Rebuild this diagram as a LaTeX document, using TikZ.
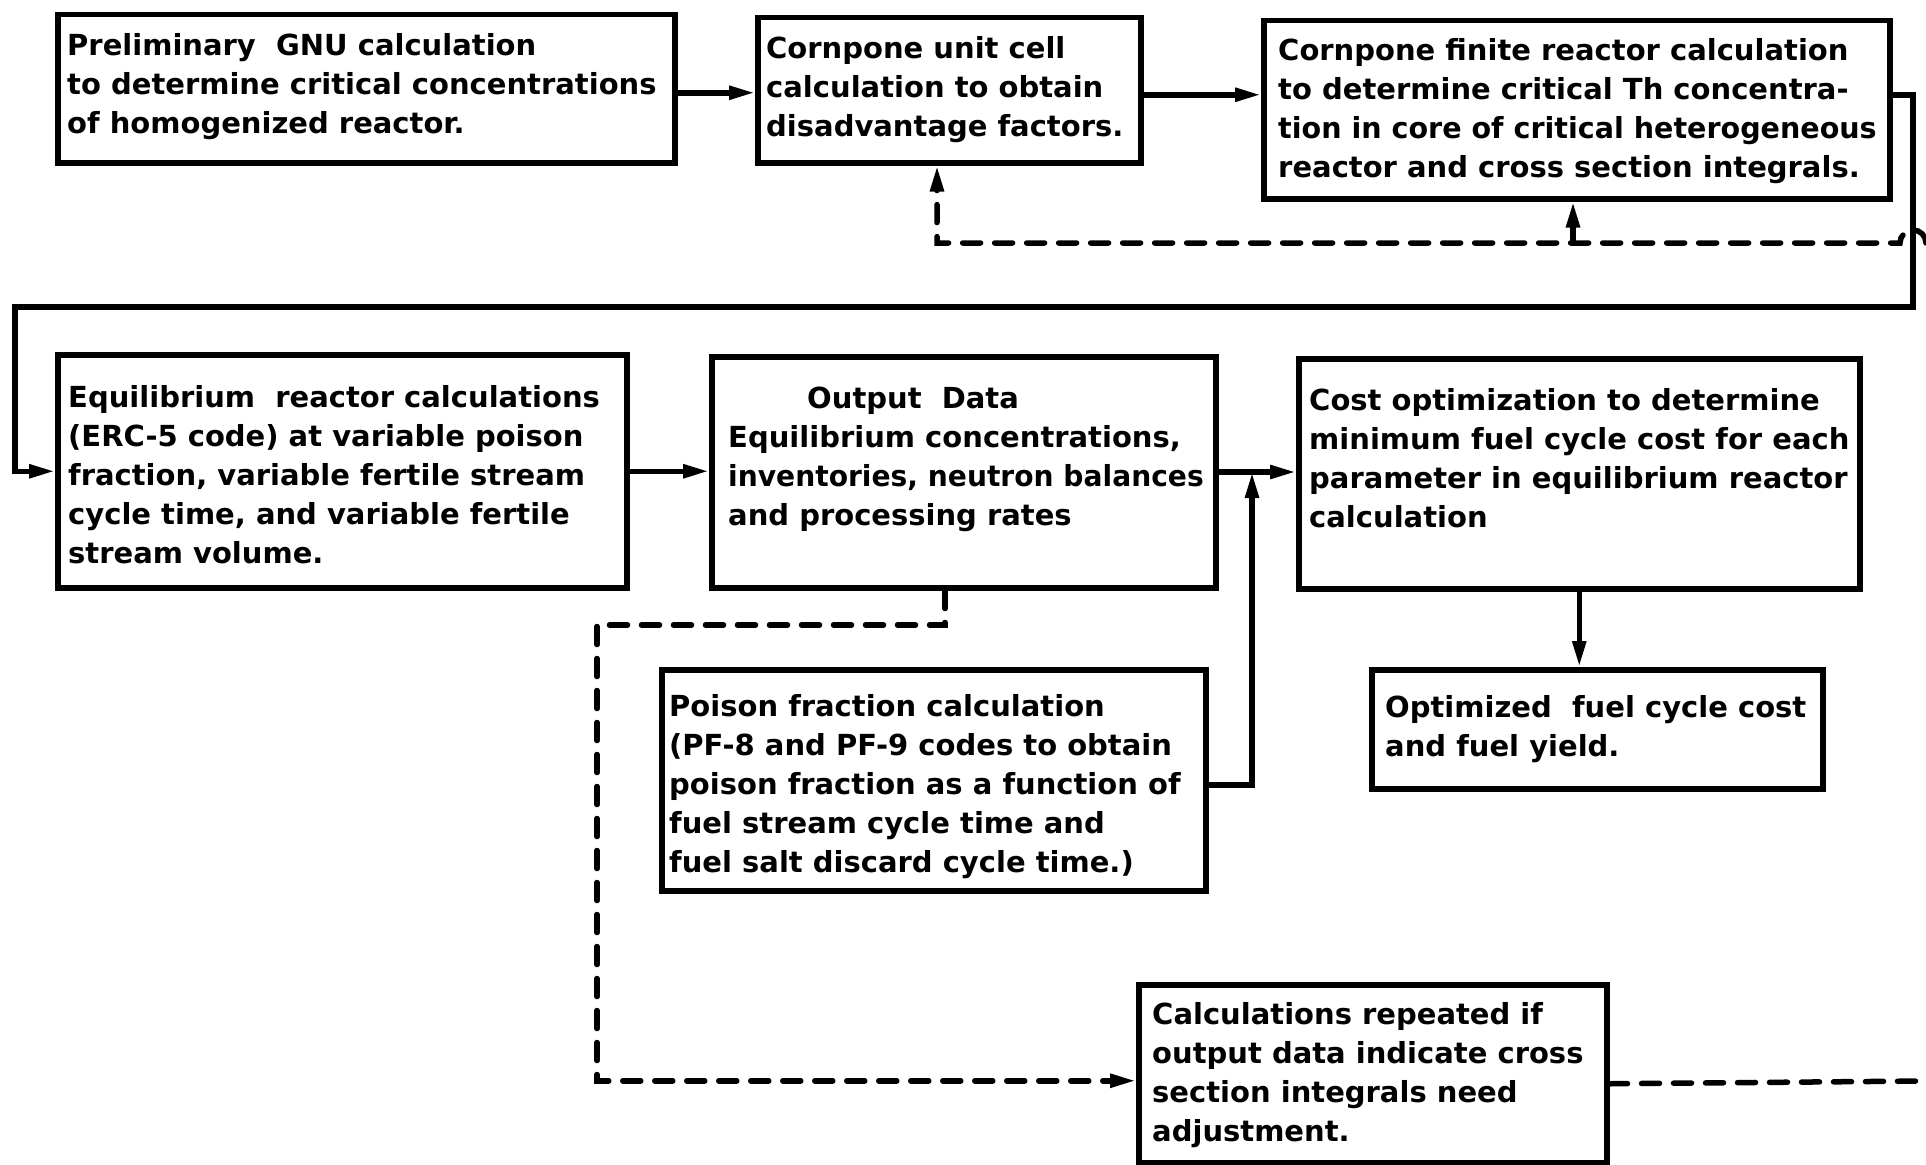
\documentclass[tikz,border=0pt]{standalone}
\usepackage{fontspec}
\usepackage{graphicx}
\setmainfont{DejaVu Sans}
\usetikzlibrary{arrows.meta}
\tikzset{
  boxn/.style={draw, line width=5.5pt, inner sep=0pt, anchor=north west},
  txt/.style={anchor=west, inner sep=0pt, align=left,
    font=\fontsize{29}{39}\selectfont\bfseries},
  conn/.style={line width=5.5pt},
  arr/.style={conn, -{Triangle[length=26pt,width=13pt]}},
  dashln/.style={conn, line cap=round, dash pattern=on 18pt off 14pt},
  darr/.style={dashln, -{Triangle[length=26pt,width=13pt]}}
}
\newcommand{\sr}{\strut}
\newcommand{\narrowline}[2]{\scalebox{#1}[1]{#2}}
\begin{document}
\begin{tikzpicture}[x=1pt,y=-1pt]
\useasboundingbox[fill=white] (0,0) rectangle (1926,1164);

% boxes
\node[boxn, minimum width=617pt, minimum height=148pt] (b1) at (55,12) {};
\node[boxn, minimum width=383pt, minimum height=145pt] (b2) at (755,15) {};
\node[boxn, minimum width=626pt, minimum height=178pt] (b3) at (1261,18) {};
\node[boxn, minimum width=569pt, minimum height=233pt] (b4) at (55,352) {};
\node[boxn, minimum width=504pt, minimum height=231pt] (b5) at (709,354) {};
\node[boxn, minimum width=561pt, minimum height=230pt] (b6) at (1296,356) {};
\node[boxn, minimum width=544pt, minimum height=221pt] (b7) at (659,667) {};
\node[boxn, minimum width=451pt, minimum height=119pt] (b8) at (1369,667) {};
\node[boxn, minimum width=468pt, minimum height=178pt] (b9) at (1136,982) {};

% texts
\node[txt] (t1) at (67,87) {\sr Preliminary\ \ GNU calculation\\ to determine critical concentrations\\ of homogenized reactor.\sr};
\node[txt] (t2) at (766,90) {\sr Cornpone unit cell\\ calculation to obtain\\ disadvantage factors.\sr};
\node[txt] (t3) at (1278,111) {\sr Cornpone finite reactor calculation\\ to determine critical Th concentra-\\ \narrowline{0.985}{tion in core of critical heterogeneous}\\ reactor and cross section integrals.\sr};
\node[txt] (t4) at (68,478) {\sr Equilibrium\ \ reactor calculations\\ (ERC-5 code) at variable poison\\ fraction, variable fertile stream\\ cycle time, and variable fertile\\ stream volume.\sr};
\node[txt] (t5) at (728,459) {\sr\hspace*{79pt}Output\ \ Data\\ Equilibrium concentrations,\\ \narrowline{0.97}{inventories, neutron balances}\\ and processing rates\sr};
\node[txt] (t6) at (1309,461) {\sr Cost optimization to determine\\ minimum fuel cycle cost for each\\ parameter in equilibrium reactor\\ calculation\sr};
\node[txt] (t7) at (669,787) {\sr Poison fraction calculation\\ (PF-8 and PF-9 codes to obtain\\ poison fraction as a function of\\ fuel stream cycle time and\\ fuel salt discard cycle time.)\sr};
\node[txt] (t8) at (1385,729) {\sr Optimized\ \ fuel cycle cost\\ and fuel yield.\sr};
\node[txt] (t9) at (1152,1075) {\sr Calculations repeated if\\ output data indicate cross\\ section integrals need\\ adjustment.\sr};

% coordinates for routing
\coordinate (r1) at (1913,307);
\coordinate (l1) at (15,307);
\coordinate (fbR) at (1926,243);
\coordinate (fbA) at (937,243);
\coordinate (fbB) at (1573,243);
\coordinate (j) at (1252,472);
\coordinate (d1) at (945,625);
\coordinate (d2) at (597,625);
\coordinate (fbE) at (1926,1081);

% solid connectors
\draw[arr] ([yshift=-4pt]b1.east) -- ([yshift=-2.5pt]b2.west);
\draw[arr] ([yshift=-4.5pt]b2.east) -- ([yshift=15pt]b3.west);
\draw[arr] ([yshift=15pt]b3.east) -| (r1) -- (l1) |- (b4.west);
\draw[arr] (b4.east) -- (b4.east -| b5.west);
\draw[arr] (b5.east |- j) -- (b6.west |- j);
\draw[arr] ([yshift=-4.5pt]b7.east) -| (j);
\draw[arr] (b6.south) -- (b6.south |- b8.north);
\draw[arr] (fbB) -- (fbB |- b3.south);

% dashed feedback connectors
\draw[darr] (fbR) arc[start angle=0, end angle=180, radius=13pt] -- (fbA) -- (fbA |- b2.south);
\draw[darr] (d1 |- b5.south) -- (d1) -- (d2) |- ([yshift=-7pt]b9.west);
\draw[dashln] ([yshift=-10pt]b9.east) -- (fbE);
\end{tikzpicture}
\end{document}
